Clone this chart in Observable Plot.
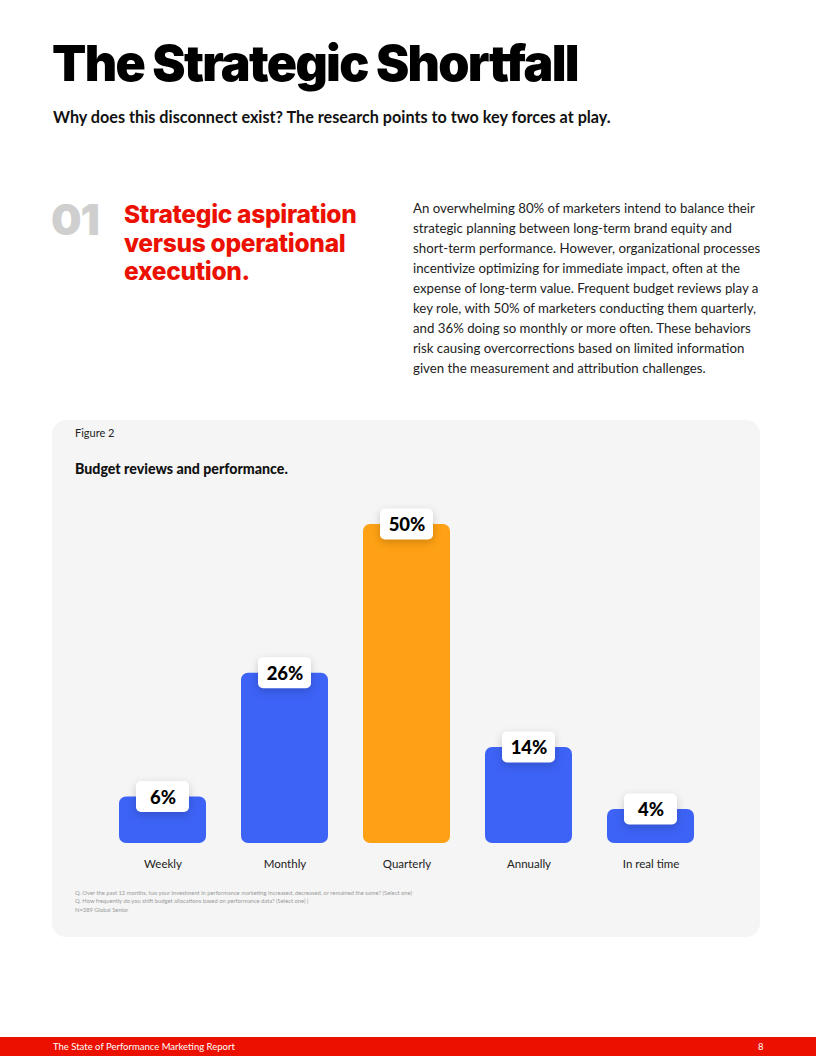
<!DOCTYPE html>
<html>
<head>
<meta charset="utf-8">
<script src="https://cdn.jsdelivr.net/npm/d3@7"></script>
<script src="https://cdn.jsdelivr.net/npm/@observablehq/plot@0.6"></script>
<style>
  html, body { margin: 0; padding: 0; background: #fff; }
  body { width: 816px; height: 1056px; position: relative; overflow: hidden; font-family: Lato, "Open Sans", sans-serif; color: #1a1a1a; }
  .abs { position: absolute; }
  #title { left: 52px; top: 38px; font-family: Inter, sans-serif; font-weight: 900; font-size: 50px; letter-spacing: -1.7px; color: #000; white-space: nowrap; line-height: 1; }
  #subtitle { left: 53px; top: 107px; font-weight: 700; font-size: 16.2px; color: #111; white-space: nowrap; }
  #num { left: 51px; top: 198px; font-family: Inter, sans-serif; font-weight: 900; font-size: 43px; color: #cfcfcf; letter-spacing: -1px; line-height: 1; }
  #heading { left: 124px; top: 200px; font-family: Inter, sans-serif; font-weight: 800; font-size: 24.5px; line-height: 28.5px; letter-spacing: -0.3px; color: #eb1000; }
  #para { left: 413px; top: 198px; font-size: 13.25px; line-height: 20px; color: #222; white-space: nowrap; }
  #card { left: 52px; top: 420px; width: 708px; height: 517px; background: #f5f5f5; border-radius: 14px; }
  #fig { left: 75px; top: 426px; font-size: 11px; color: #222; }
  #ctitle { left: 75px; top: 460px; font-weight: 900; font-size: 14.2px; color: #111; }
  #chart { left: 52px; top: 490px; }
  #caption { left: 75px; top: 889px; font-size: 5.8px; line-height: 8.4px; color: #9a9a9a; white-space: nowrap; }
  #footer { left: 0; top: 1037px; width: 816px; height: 19px; background: #eb1000; color: #fff; font-size: 9.5px; }
  #footer span { position: absolute; top: 4px; }
  g[aria-label="rect"] rect { filter: drop-shadow(0px 3px 4px rgba(0,0,0,0.18)); }
</style>
</head>
<body>
<div id="title" class="abs">The Strategic Shortfall</div>
<div id="subtitle" class="abs">Why does this disconnect exist? The research points to two key forces at play.</div>
<div id="num" class="abs">01</div>
<div id="heading" class="abs">Strategic aspiration<br>versus operational<br>execution.</div>
<div id="para" class="abs">An overwhelming 80% of marketers intend to balance their<br>strategic planning between long-term brand equity and<br>short-term performance. However, organizational processes<br>incentivize optimizing for immediate impact, often at the<br>expense of long-term value. Frequent budget reviews play a<br>key role, with 50% of marketers conducting them quarterly,<br>and 36% doing so monthly or more often. These behaviors<br>risk causing overcorrections based on limited information<br>given the measurement and attribution challenges.</div>
<div id="card" class="abs"></div>
<div id="fig" class="abs">Figure 2</div>
<div id="ctitle" class="abs">Budget reviews and performance.</div>
<div id="chart" class="abs"></div>
<div id="caption" class="abs">Q. Over the past 12 months, has your investment in performance marketing increased, decreased, or remained the same? (Select one)<br>Q. How frequently do you shift budget allocations based on performance data? (Select one) |<br>N=389 Global Senior</div>
<div id="footer" class="abs"><span style="left:53px">The State of Performance Marketing Report</span><span style="left:758px">8</span></div>
<script>
const categories = ["Weekly", "Monthly", "Quarterly", "Annually", "In real time"];
const values = [6, 26, 50, 14, 4];
const highlight = ["Quarterly"];
const labels = values.map(v => v + "%");
const yDomain = [-1.5, 50];

const data = categories.map((c, i) => ({category: c, value: values[i], label: labels[i], hi: highlight.includes(c)}));

const chart = Plot.plot({
  width: 708,
  height: 390,
  marginTop: 34,
  marginBottom: 37,
  marginLeft: 29,
  marginRight: 29,
  style: {background: "transparent", fontFamily: "Lato, sans-serif"},
  x: {domain: categories, padding: 0.29, label: null, tickSize: 0, tickPadding: 16},
  y: {domain: yDomain, axis: null},
  marks: [
    Plot.barY(data, {x: "category", y1: () => yDomain[0], y2: "value", fill: d => d.hi ? "#fea114" : "#3d63f6", rx: 7}),
    Plot.rect(data, {x: "category", y1: "value", y2: "value", fill: "#fff", insetLeft: 17, insetRight: 17, insetTop: -15.5, insetBottom: -15.5, rx: 5}),
    Plot.text(data, {x: "category", y: "value", text: "label", fill: "#000", fontSize: 18.5, fontWeight: 900, dy: 1})
  ]
});
chart.querySelectorAll('g[aria-label="x-axis tick label"] text, g[aria-label="x-axis"] text').forEach(t => { t.style.fontSize = "11.5px"; t.style.fill = "#222"; });
document.getElementById("chart").appendChild(chart);
</script>
</body>
</html>
